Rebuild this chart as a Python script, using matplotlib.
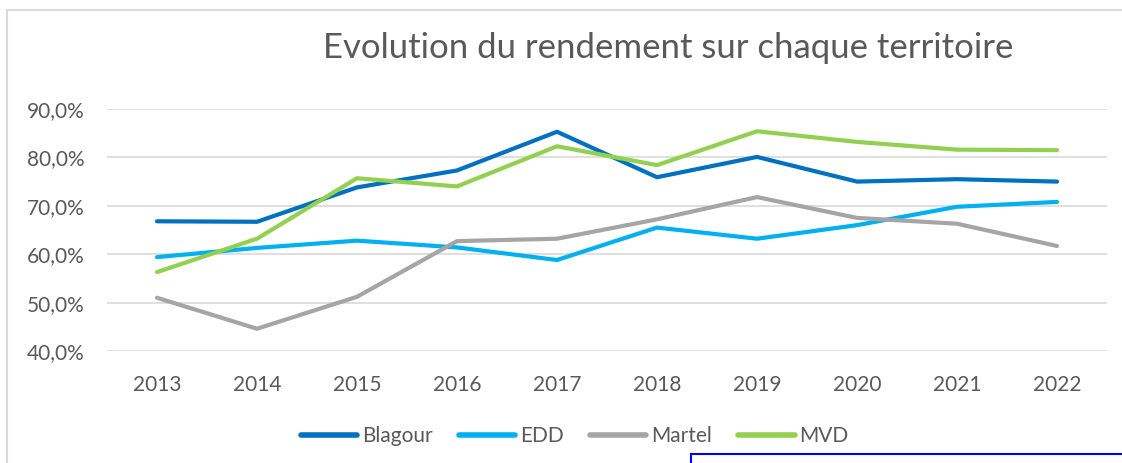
import matplotlib
matplotlib.use("Agg")
import matplotlib.pyplot as plt
from matplotlib.lines import Line2D
from matplotlib.ticker import FuncFormatter

plt.rcParams['font.family'] = ['Lato', 'DejaVu Sans']

years = ["2013", "2014", "2015", "2016", "2017", "2018", "2019", "2020", "2021", "2022"]
blagour = [66.8, 66.7, 73.8, 77.3, 85.3, 75.9, 80.1, 75.0, 75.5, 75.0]
edd = [59.4, 61.3, 62.8, 61.4, 58.8, 65.5, 63.2, 66.0, 69.8, 70.8]
martel = [51.0, 44.6, 51.2, 62.7, 63.2, 67.2, 71.8, 67.5, 66.3, 61.7]
mvd = [56.3, 63.2, 75.7, 74.0, 82.3, 78.4, 85.4, 83.2, 81.6, 81.5]

series = [("Blagour", blagour, "#0070C0"),
          ("EDD", edd, "#00B0F0"),
          ("Martel", martel, "#A5A5A5"),
          ("MVD", mvd, "#92D050")]

W, H = 1122, 463
fig = plt.figure(figsize=(W / 100, H / 100), dpi=100)
ax = fig.add_axes([107 / W, 1 - 351 / H, 1000 / W, 242 / H])

x = list(range(len(years)))
for name, vals, col in series:
    ax.plot(x, vals, color=col, lw=3, label=name, solid_capstyle='round', solid_joinstyle='round')

ax.set_xlim(-0.5, len(years) - 0.5)
ax.set_ylim(40, 90)
ax.set_yticks([40, 50, 60, 70, 80, 90])
ax.yaxis.set_major_formatter(FuncFormatter(lambda v, p: f"{v:.1f}%".replace(".", ",")))
ax.set_xticks(x)
ax.set_xticklabels(years)
ax.grid(axis='y', color='#D9D9D9', lw=1.2)
ax.set_axisbelow(True)
for s in ax.spines.values():
    s.set_visible(False)
ax.tick_params(axis='both', length=0, labelsize=15, colors='#595959')
ax.tick_params(axis='y', pad=16)
ax.tick_params(axis='x', pad=17)

fig.text(668 / W, 1 - 48 / H, "Evolution du rendement sur chaque territoire",
         ha='center', va='center', fontsize=25, color='#595959')

leg = fig.legend(loc='center', bbox_to_anchor=(575 / W, 1 - 436 / H), ncol=4, frameon=False,
                 fontsize=15, handlelength=2.7, handletextpad=0.24, columnspacing=1.25)
for t in leg.get_texts():
    t.set_color('#595959')
for h in leg.legend_handles:
    h.set_linewidth(4)
    h.set_solid_capstyle('round')

# outer chart border (partially visible)
fig.add_artist(Line2D([7 / W, 1.0], [1 - 10 / H, 1 - 10 / H], color='#D9D9D9', lw=1.5))
fig.add_artist(Line2D([7 / W, 7 / W], [1 - 10 / H, 0], color='#D9D9D9', lw=1.5))
# blue selection box at bottom right
fig.add_artist(Line2D([691 / W, 1.0], [1 - 454 / H, 1 - 454 / H], color='#0000FF', lw=1.5))
fig.add_artist(Line2D([691 / W, 691 / W], [1 - 454 / H, 0], color='#0000FF', lw=1.5))

fig.savefig("out.png", dpi=100)
